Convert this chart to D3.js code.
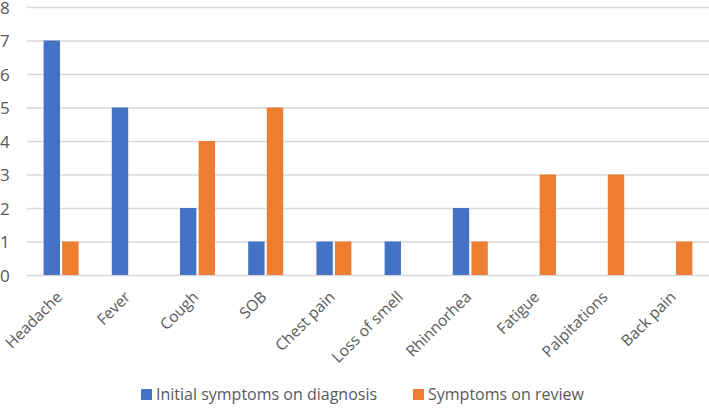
<!DOCTYPE html>
<html><head><meta charset="utf-8">
<script src="https://cdn.jsdelivr.net/npm/d3@7"></script>
<style>body{margin:0;background:#fff}svg{display:block}</style>
</head><body><svg id="c" width="709" height="411"></svg>
<script>
const categories = ["Headache","Fever","Cough","SOB","Chest pain","Loss of smell","Rhinnorhea","Fatigue","Palpitations","Back pain"];
const initialValues = [7,5,2,1,1,1,2,0,0,0];
const reviewValues = [1,0,4,5,1,0,1,3,3,1];
const seriesNames = ["Initial symptoms on diagnosis","Symptoms on review"];
const yTicks = [0,1,2,3,4,5,6,7,8];

(function(){
const colors = ["#4472C4","#ED7D31"];
const textColor = "#595959";
const font = "'Open Sans', sans-serif";
const svg = d3.select("#c");
const mLeft = 27, mRight = 709, mTop = 7, mBottom = 275;

const x = d3.scaleBand().domain(categories).range([mLeft, mRight]).paddingInner(0).paddingOuter(0);
const y = d3.scaleLinear().domain([0,8]).range([mBottom, mTop]);
const xs = d3.scaleBand().domain([0,1]).range([0, 35]).paddingInner(0.12);

const yAxis = d3.axisLeft(y).tickValues(yTicks).tickSize(-(mRight-mLeft));
const ga = svg.append("g").attr("transform", `translate(${mLeft},0)`).call(yAxis);
ga.select(".domain").remove();
ga.selectAll(".tick line").attr("stroke", "#d9d9d9").attr("stroke-width", 1.3);
ga.selectAll(".tick text").attr("fill", textColor).attr("font-family", font).attr("font-size", 17)
  .attr("text-anchor","start").attr("x", -mLeft).attr("dy", "0.36em");

const data = [initialValues, reviewValues];
categories.forEach((c, i) => {
  const g = svg.append("g").attr("transform", `translate(${x(c) + x.bandwidth()/2 - 17.5},0)`);
  data.forEach((vals, s) => {
    if (vals[i] > 0) {
      g.append("rect").attr("x", xs(s)).attr("width", xs.bandwidth())
        .attr("y", y(vals[i])).attr("height", y(0) - y(vals[i])).attr("fill", colors[s]);
    }
  });
});

const xAxis = d3.axisBottom(x).tickSize(0).tickPadding(0);
const gx = svg.append("g").attr("transform", `translate(0,${mBottom})`).call(xAxis);
gx.select(".domain").remove();
gx.selectAll(".tick text").attr("fill", textColor).attr("font-family", font).attr("font-size", 15.5)
  .attr("text-anchor","end").attr("dy", null).attr("y", 0)
  .attr("transform", "translate(2,23) rotate(-45)");

const legendItems = [{x:141, text: seriesNames[0]}, {x:413, text: seriesNames[1]}];
legendItems.forEach((d, s) => {
  svg.append("rect").attr("x", d.x).attr("y", 389).attr("width", 11).attr("height", 11).attr("fill", colors[s]);
  svg.append("text").attr("x", d.x + 15).attr("y", 400).attr("fill", textColor)
    .attr("font-family", font).attr("font-size", 16).text(d.text);
});
})();
</script></body></html>
